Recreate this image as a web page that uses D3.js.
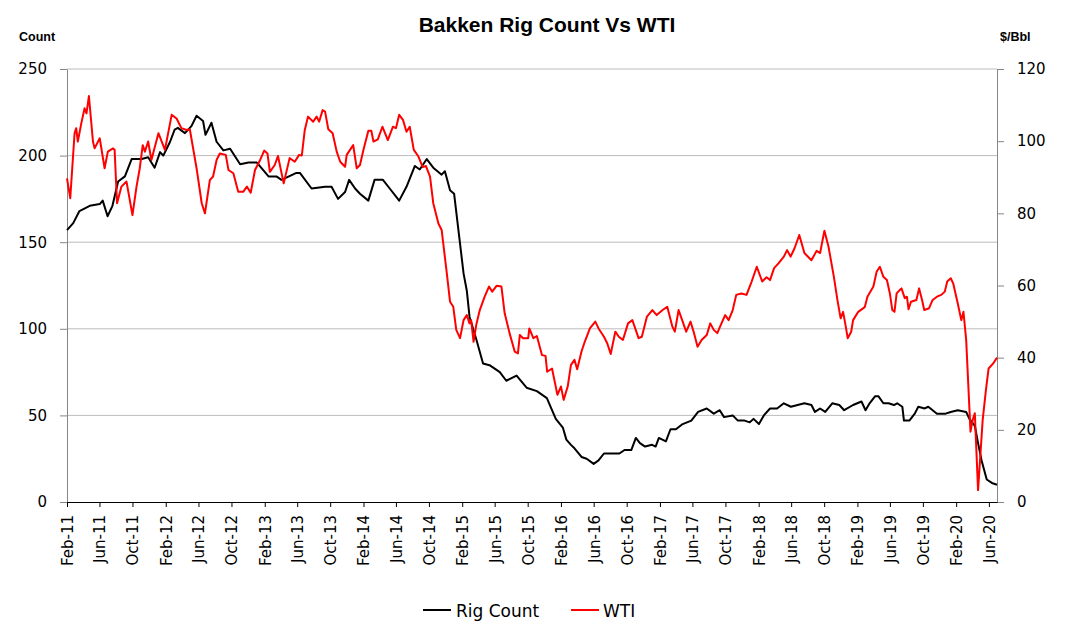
<!DOCTYPE html>
<html>
<head>
<meta charset="utf-8">
<script src="https://d3js.org/d3.v7.min.js"></script>
<style>
  body { margin: 0; background: #fff; }
  svg text { font-family: "DejaVu Sans", sans-serif; }
</style>
</head>
<body>
<svg id="drawing_chart"></svg>
<script>
// Bakken rig count (left axis)
const rigDates = [
  "2011-02-01","2011-02-24","2011-03-19","2011-04-26","2011-06-02","2011-06-13","2011-07-01","2011-07-19","2011-08-09","2011-09-03","2011-09-28","2011-10-16","2011-11-04","2011-11-28","2011-12-22",
  "2012-01-11","2012-01-23","2012-02-17","2012-03-05","2012-03-17","2012-04-12","2012-05-06","2012-05-25","2012-06-18","2012-06-27","2012-07-19","2012-08-07","2012-09-01","2012-09-26","2012-11-02","2012-12-03",
  "2013-01-03","2013-02-15","2013-03-16","2013-04-04","2013-05-29","2013-06-11","2013-07-24","2013-09-12","2013-10-06","2013-10-30","2013-11-25","2013-12-10",
  "2014-01-01","2014-01-19","2014-02-19","2014-03-14","2014-04-14","2014-05-09","2014-06-13","2014-07-10","2014-08-10","2014-08-28","2014-09-23","2014-10-17","2014-11-17","2014-11-29","2014-12-18",
  "2015-01-02","2015-01-18","2015-02-06","2015-02-18","2015-02-28","2015-03-25","2015-04-19","2015-05-13","2015-06-20","2015-07-14","2015-08-21","2015-09-27","2015-11-04","2015-12-11","2015-12-30",
  "2016-01-13","2016-02-08","2016-02-21","2016-03-09","2016-03-22","2016-04-17","2016-05-06","2016-06-01","2016-06-19","2016-07-09","2016-08-09","2016-09-04","2016-09-23","2016-10-18","2016-11-04","2016-11-19","2016-12-08",
  "2017-01-03","2017-01-16","2017-01-28","2017-02-23","2017-03-12","2017-04-01","2017-04-26","2017-05-28","2017-06-22","2017-07-24","2017-08-19","2017-09-10","2017-09-26","2017-10-28","2017-11-16","2017-12-11","2017-12-30",
  "2018-01-13","2018-02-02","2018-02-20","2018-03-15","2018-04-10","2018-05-05","2018-05-31","2018-06-25","2018-07-20","2018-08-15","2018-08-28","2018-09-16","2018-10-05","2018-10-31","2018-11-26","2018-12-14",
  "2019-01-16","2019-02-16","2019-03-03","2019-03-18","2019-04-07","2019-04-20","2019-05-08","2019-05-27","2019-06-16","2019-06-28","2019-07-17","2019-07-23","2019-08-12","2019-09-01","2019-09-14","2019-10-08","2019-10-21","2019-11-22","2019-12-24",
  "2020-01-12","2020-02-07","2020-03-09","2020-03-21","2020-04-10","2020-04-22","2020-05-05","2020-05-24","2020-06-12","2020-07-01"
];
const rigCount = [
  157,161,168,171,172,174,165,171,185,188,198,198,198,199,193,
  202,200,208,215,216,213,217,223,220,212,219,208,203,204,195,196,
  196,188,188,186,190,190,181,182,182,175,179,186,
  181,178,174,186,186,181,174,182,194,192,198,193,189,191,180,
  178,157,132,122,107,94,80,79,75,70,73,66,64,60,53,
  48,43,36,33,31,26,25,22,24,28,28,28,30,30,37,34,32,
  33,32,37,35,42,42,45,47,52,54,51,53,49,50,47,47,46,
  48,45,50,54,54,57,55,56,57,56,52,54,52,57,56,53,
  56,58,53,57,61,61,57,57,56,57,55,47,47,51,55,54,55,51,51,
  52,53,52,48,44,34,24,13,11,10
];

// WTI price $/Bbl (right axis)
const wtiDates = [
  "2011-02-01","2011-02-13","2011-03-01","2011-03-07","2011-03-13","2011-03-26","2011-04-07","2011-04-14","2011-04-23","2011-05-08","2011-05-14","2011-06-02","2011-06-20","2011-07-02","2011-07-21","2011-07-27","2011-08-05","2011-08-21","2011-09-09","2011-10-01","2011-10-16","2011-10-28","2011-11-08","2011-11-16","2011-11-28","2011-12-10",
  "2012-01-05","2012-01-29","2012-02-23","2012-03-12","2012-03-30","2012-04-18","2012-04-30","2012-05-25","2012-06-13","2012-06-25","2012-07-13","2012-07-25","2012-08-07","2012-08-19","2012-09-10","2012-09-20","2012-10-08","2012-10-26","2012-11-14","2012-11-27","2012-12-11","2012-12-27",
  "2013-01-15","2013-01-30","2013-02-11","2013-02-20","2013-03-10","2013-03-22","2013-04-12","2013-05-04","2013-05-23","2013-06-08","2013-06-18","2013-06-29","2013-07-11","2013-07-30","2013-08-12","2013-08-21","2013-09-03","2013-09-12","2013-09-24","2013-10-10","2013-10-25","2013-11-07","2013-11-25","2013-12-01","2013-12-25",
  "2014-01-07","2014-01-19","2014-02-01","2014-02-19","2014-03-02","2014-03-10","2014-03-26","2014-04-12","2014-05-02","2014-05-21","2014-06-01","2014-06-13","2014-06-27","2014-07-10","2014-07-22","2014-08-06","2014-08-22","2014-09-08","2014-09-20","2014-10-05","2014-10-17","2014-11-05","2014-11-17","2014-12-06","2014-12-18","2014-12-30",
  "2015-01-10","2015-01-24","2015-02-06","2015-02-18","2015-02-28","2015-03-06","2015-03-15","2015-03-25","2015-04-07","2015-04-25","2015-05-11","2015-05-23","2015-06-08","2015-06-26","2015-07-08","2015-07-26","2015-08-14","2015-08-26","2015-09-02","2015-09-14","2015-10-03","2015-10-07","2015-10-22","2015-11-04","2015-11-23","2015-12-06","2015-12-12","2015-12-30",
  "2016-01-19","2016-02-01","2016-02-11","2016-02-26","2016-03-09","2016-03-22","2016-04-01","2016-04-17","2016-04-29","2016-05-18","2016-06-07","2016-06-19","2016-07-09","2016-07-21","2016-08-03","2016-08-20","2016-09-02","2016-09-17","2016-10-06","2016-10-22","2016-11-14","2016-11-26","2016-12-15",
  "2017-01-04","2017-01-20","2017-02-11","2017-02-28","2017-03-19","2017-03-28","2017-04-11","2017-04-26","2017-05-09","2017-05-25","2017-06-07","2017-06-20","2017-07-05","2017-07-24","2017-08-06","2017-08-19","2017-09-01","2017-09-14","2017-09-30","2017-10-13","2017-10-28","2017-11-10","2017-11-29","2017-12-18",
  "2018-01-06","2018-01-25","2018-02-14","2018-03-02","2018-03-15","2018-03-30","2018-04-16","2018-05-05","2018-05-17","2018-05-30","2018-06-14","2018-07-01","2018-07-20","2018-08-15","2018-09-03","2018-09-16","2018-10-02","2018-10-17","2018-11-06","2018-11-19","2018-12-01","2018-12-10","2018-12-20","2018-12-27",
  "2019-01-09","2019-01-16","2019-02-04","2019-02-28","2019-03-10","2019-04-01","2019-04-13","2019-04-25","2019-05-08","2019-05-21","2019-06-01","2019-06-10","2019-06-18","2019-06-26","2019-07-08","2019-07-14","2019-07-26","2019-08-03","2019-08-09","2019-08-18","2019-09-07","2019-09-17","2019-09-28","2019-10-06","2019-10-24","2019-11-06","2019-11-22","2019-12-08","2019-12-21","2019-12-30",
  "2020-01-12","2020-01-21","2020-02-07","2020-02-20","2020-02-28","2020-03-09","2020-03-25","2020-04-02","2020-04-10","2020-04-22","2020-05-09","2020-05-21","2020-05-31","2020-06-17","2020-07-01"
];
const wtiPrice = [
  89.7,84.2,102.2,103.6,99.9,105,109.1,107.7,112.5,99.9,98,100.8,92.5,97.1,98,97.6,82.8,87.4,88.8,79.5,87.4,92.5,98.9,97.1,99.9,94.8,
  102.2,97.6,107.3,106.3,103.6,103.1,103.3,92.5,82.8,80,89.2,90.2,94.8,96.6,96.2,92,91.1,86,86,87.4,85.7,92,
  94.8,97.4,96.6,91.5,93.4,95.9,88.3,95.3,94.3,96.2,96,103.1,106.8,105.4,106.8,105.4,108.6,108.2,103.3,102.2,97.1,94.3,92.9,96.2,98.9,
  92.5,93.4,97.6,102.9,102.9,99.9,100.5,104,100.3,104,103.6,107.3,105.9,102.6,104,97.6,95.9,92.8,93.1,90.2,82.8,77.2,75.4,63.4,55.5,54.1,
  47.7,45.4,50.4,51.8,49.5,50.4,44.4,49.1,53.2,56.9,59.7,58.3,59.9,59.7,52.3,46.8,41.7,41.2,46.3,45.4,45.4,48.1,45.4,46,40.7,40.5,36.1,37,
  29.7,32,28.3,32,38,39.4,36.8,41.7,44.4,48.1,50,48.1,45.8,44,41,47.2,45.8,44.9,49.5,50.4,45.4,45.8,51.4,
  53.2,51.8,53.2,54.1,48.6,47.2,53.2,50,47.2,50,46.8,43,44.9,46.3,49.5,47.7,46.8,49.1,51.8,50.4,53.2,57.4,57.8,57.4,
  61.1,65.2,61.1,62.3,61.5,64.8,66.2,68,69.8,68,70.4,74,69,67,69.6,69,75.2,70.8,62.4,56,50.9,52.7,48.6,45.4,
  47.2,50.4,52.7,54,56.9,59.7,63.8,65.2,62.4,61.5,57.8,53.2,52.7,57.8,58.8,59.2,56.5,56.9,53.4,55.5,56,59.2,56,53.2,53.7,56,56.9,57.4,58.3,61.1,
  62,60.6,55,50.4,52.7,45,19.5,22.7,24.6,3.3,22.7,31,37,38.4,40
];

const rigTicks = [0, 50, 100, 150, 200, 250];
const wtiTicks = [0, 20, 40, 60, 80, 100, 120];
const seriesNames = ["Rig Count", "WTI"];
const seriesColors = ["#000000", "#ff0000"];

const config = {
  parent: '#drawing_chart',
  width: 1069,
  height: 626,
  margin: {top: 69, right: 72, bottom: 124, left: 67}
};

const parseDate = d3.timeParse("%Y-%m-%d");
const rigData = rigDates.map((d, i) => ({date: parseDate(d), value: rigCount[i]}));
const wtiData = wtiDates.map((d, i) => ({date: parseDate(d), value: wtiPrice[i]}));

const svg = d3.select(config.parent)
    .attr('width', config.width)
    .attr('height', config.height);

const inner_width = config.width - config.margin.left - config.margin.right;
const inner_height = config.height - config.margin.top - config.margin.bottom;

const chart = svg.append('g')
    .attr('transform', `translate(${config.margin.left}, ${config.margin.top})`);

const xscale = d3.scaleTime()
    .domain([new Date(2011, 1, 1), new Date(2020, 6, 1)])
    .range([0, inner_width]);

const yleft = d3.scaleLinear()
    .domain([0, 250])
    .range([inner_height, 0]);

const yright = d3.scaleLinear()
    .domain([0, 120])
    .range([inner_height, 0]);

// horizontal gridlines
chart.append('g')
    .selectAll('line')
    .data(rigTicks.filter(d => d > 0))
    .enter()
    .append('line')
    .attr('x1', 0)
    .attr('x2', inner_width)
    .attr('y1', d => yleft(d))
    .attr('y2', d => yleft(d))
    .attr('stroke', '#bcbcbc')
    .attr('stroke-width', 1);

// left axis
const yaxis_left = d3.axisLeft(yleft)
    .tickValues(rigTicks)
    .tickSize(7)
    .tickPadding(13)
    .tickSizeOuter(0);

const left_group = chart.append('g').call(yaxis_left);
left_group.selectAll('path, line').attr('stroke', '#868686');
left_group.selectAll('text').attr('font-size', '15px').attr('fill', '#000')
    .style('font-family', '"DejaVu Sans", sans-serif');

// right axis
const yaxis_right = d3.axisRight(yright)
    .tickValues(wtiTicks)
    .tickSize(7)
    .tickPadding(13)
    .tickSizeOuter(0);

const right_group = chart.append('g')
    .attr('transform', `translate(${inner_width}, 0)`)
    .call(yaxis_right);
right_group.selectAll('path, line').attr('stroke', '#868686');
right_group.selectAll('text').attr('font-size', '15px').attr('fill', '#000')
    .style('font-family', '"DejaVu Sans", sans-serif');

// bottom axis, ticks every 4 months
const xticks = d3.timeMonth.range(new Date(2011, 1, 1), new Date(2020, 6, 2), 4);
const xaxis = d3.axisBottom(xscale)
    .tickValues(xticks)
    .tickFormat(d3.timeFormat("%b-%y"))
    .tickSize(5)
    .tickSizeOuter(0);

const x_group = chart.append('g')
    .attr('transform', `translate(0, ${inner_height})`)
    .call(xaxis);
x_group.selectAll('path, line').attr('stroke', '#000');
x_group.selectAll('text')
    .attr('font-size', '15px')
    .attr('fill', '#000')
    .style('font-family', '"DejaVu Sans", sans-serif')
    .attr('transform', 'rotate(-90)')
    .attr('text-anchor', 'end')
    .attr('x', -13)
    .attr('y', 0)
    .attr('dy', '0.36em');

// lines
const rigLine = d3.line()
    .x(d => xscale(d.date))
    .y(d => yleft(d.value));

const wtiLine = d3.line()
    .x(d => xscale(d.date))
    .y(d => yright(d.value));

chart.append('path')
    .datum(rigData)
    .attr('d', rigLine)
    .attr('fill', 'none')
    .attr('stroke', seriesColors[0])
    .attr('stroke-width', 2)
    .attr('stroke-linejoin', 'round');

chart.append('path')
    .datum(wtiData)
    .attr('d', wtiLine)
    .attr('fill', 'none')
    .attr('stroke', seriesColors[1])
    .attr('stroke-width', 2)
    .attr('stroke-linejoin', 'round');

// title and axis captions
svg.append('text')
    .attr('x', 547)
    .attr('y', 32)
    .attr('text-anchor', 'middle')
    .attr('font-size', '21px')
    .attr('font-weight', 'bold')
    .style('font-family', '"Liberation Sans", Arial, sans-serif')
    .text('Bakken Rig Count Vs WTI');

svg.append('text')
    .attr('x', 19)
    .attr('y', 41)
    .attr('font-size', '12.5px')
    .attr('font-weight', 'bold')
    .style('font-family', '"Liberation Sans", Arial, sans-serif')
    .text('Count');

svg.append('text')
    .attr('x', 1000)
    .attr('y', 41)
    .attr('font-size', '12.5px')
    .attr('font-weight', 'bold')
    .style('font-family', '"Liberation Sans", Arial, sans-serif')
    .text('$/Bbl');

// legend
const legendX = [423, 571];
const legend = svg.append('g')
    .selectAll('g')
    .data(seriesNames)
    .enter()
    .append('g')
    .attr('transform', (d, i) => `translate(${legendX[i]}, 610)`);

legend.append('line')
    .attr('x1', 0)
    .attr('x2', 28)
    .attr('y1', 0)
    .attr('y2', 0)
    .attr('stroke', (d, i) => seriesColors[i])
    .attr('stroke-width', 2);

legend.append('text')
    .attr('x', (d, i) => i === 0 ? 33 : 32)
    .attr('y', 7)
    .attr('font-size', '17px')
    .attr('fill', '#000')
    .text(d => d);
</script>
</body>
</html>
